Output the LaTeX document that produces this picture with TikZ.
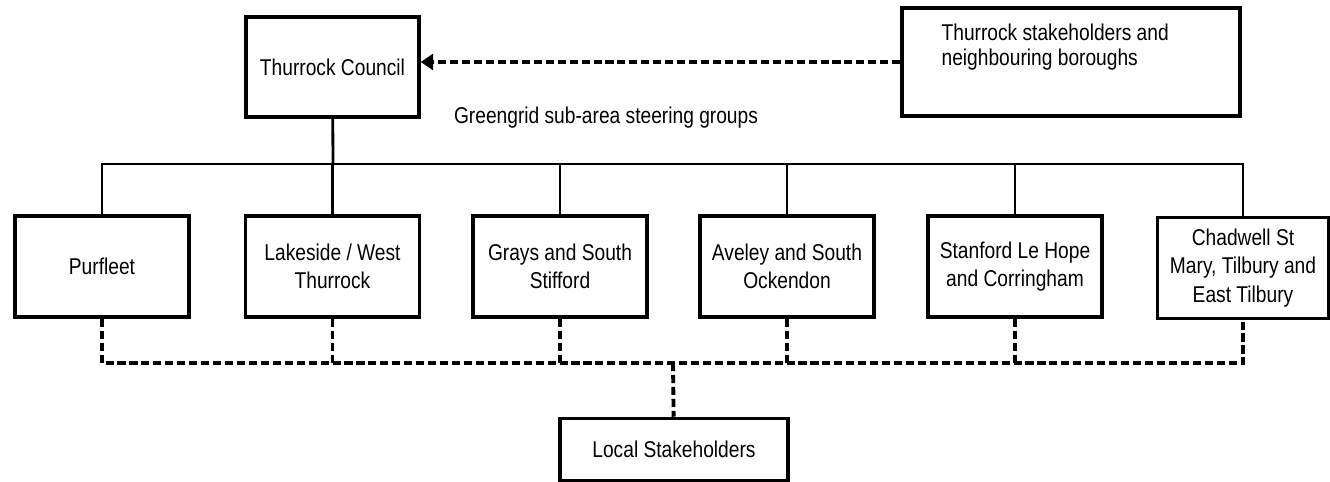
\documentclass[tikz,border=0pt]{standalone}
\usepackage{fontspec}
\setmainfont[FakeStretch=0.84]{Liberation Sans}
\usetikzlibrary{positioning,arrows.meta}

\begin{document}
\begin{tikzpicture}[x=0.02cm, y=0.02cm,
    box/.style={draw, line width=2pt, minimum width=3.48cm, minimum height=2.02cm, align=center, inner sep=2pt, font=\fontsize{13}{16}\selectfont},
    note/.style={align=left, inner sep=0pt, font=\fontsize{13}{14.5}\selectfont},
    link/.style={line width=1.6pt},
    dashlink/.style={line width=2.2pt, dash pattern=on 4.6pt off 2.2pt}
]
\useasboundingbox (0,0) rectangle (1330,-482);

% Top level
\node[box, minimum width=3.46cm, minimum height=2cm] (council) at (332.5,-67) {Thurrock Council};
\node[box, minimum width=6.76cm, minimum height=2.16cm] (stake) at (1071,-62) {};
\node[note, below right=0.34cm and 0.82cm of stake.north west] (staketext) {Thurrock stakeholders and\\neighbouring boroughs};
\node[note] (steer) at (606,-118) {Greengrid sub-area steering groups};

% Sub-area groups
\node[box] (purfleet) at (102,-266.5) {Purfleet};
\node[box] (lakeside) at (332.5,-266.5) {Lakeside / West\\Thurrock};
\node[box] (grays) at (560,-266.5) {Grays and South\\Stifford};
\node[box] (aveley) at (787,-266.5) {Aveley and South\\Ockendon};
\node[box] (stanford) at (1015,-266.5) {Stanford Le Hope\\and Corringham};
\node[box, minimum width=3.42cm] (chadwell) at (1243,-268) {Chadwell St\\Mary, Tilbury and\\East Tilbury};

% Local level
\node[box, minimum width=4.56cm, minimum height=1.24cm] (local) at (674,-449.5) {Local Stakeholders};

\coordinate (top bus) at (333,-164);
\coordinate (low bus) at (673,-363);

% Council to sub-areas
\draw[link] (council) -- (top bus);
\draw[link] (purfleet.north) |- (chadwell.north |- top bus) -- (chadwell.north);
\draw[link] (lakeside.north |- top bus) -- (lakeside.north);
\draw[link] (grays.north |- top bus) -- (grays.north);
\draw[link] (aveley.north |- top bus) -- (aveley.north);
\draw[link] (stanford.north |- top bus) -- (stanford.north);

% Sub-areas to local stakeholders
\draw[dashlink] (purfleet.south) |- (chadwell.south |- low bus) -- (chadwell.south);
\draw[dashlink] (lakeside.south) -- (lakeside.south |- low bus);
\draw[dashlink] (grays.south) -- (grays.south |- low bus);
\draw[dashlink] (aveley.south) -- (aveley.south |- low bus);
\draw[dashlink] (stanford.south) -- (stanford.south |- low bus);
\draw[dashlink] (low bus) -- (local);

% Stakeholders feed the council
\draw[dashlink, -{Triangle[length=7pt, width=9pt]}] (stake.west) -- (council.east |- stake.west);

\end{tikzpicture}
\end{document}
